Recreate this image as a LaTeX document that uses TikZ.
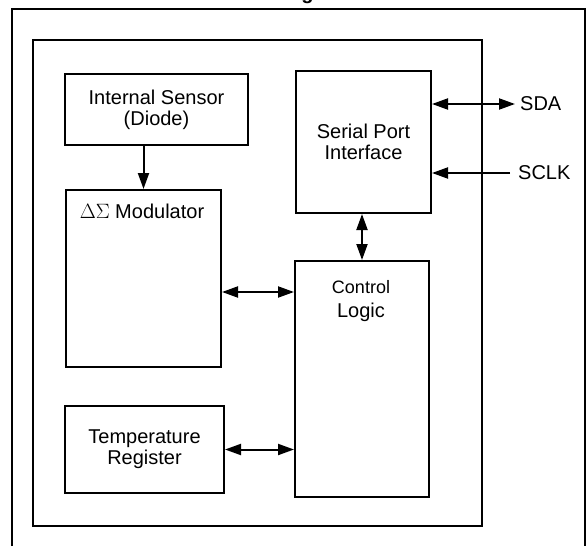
\documentclass[tikz,border=0pt]{standalone}
\usepackage{fontspec}
\setmainfont{Liberation Sans}
\usetikzlibrary{arrows.meta,calc}
\begin{document}
\begin{tikzpicture}[x=1pt,y=-1pt,
  >={Triangle[length=16pt,width=11pt]},
  box/.style={draw,line width=2pt,inner sep=0pt,anchor=north west,align=center,
    font=\fontsize{20}{21}\selectfont},
  lbl/.style={inner sep=0pt,font=\fontsize{20}{21}\selectfont},
  conn/.style={line width=2pt},
  frame/.style={line width=2pt}]
\useasboundingbox (0,0) rectangle (588,546);
% cut-off title (only the descender shows)
\node[inner sep=0pt,anchor=base west,font=\bfseries\fontsize{20}{20}\selectfont] (title) at (210,-1) {Block Diagram};
% outer frame
\draw[frame] (12,546) -- (12,9) -- (585,9) -- (585,546);
% chip outline
\node[box,minimum width=449pt,minimum height=486pt] (chip) at (32,39) {};
% blocks
\node[box,minimum width=183pt,minimum height=71pt] (sensor) at (64,73) {Internal Sensor\\(Diode)};
\node[box,minimum width=135pt,minimum height=142pt] (serial) at (295,70) {Serial Port\\Interface};
\node[box,minimum width=155pt,minimum height=177pt] (delta) at (65,189) {};
\node[box,minimum width=134pt,minimum height=236pt] (ctrl) at (294,260) {};
\node[box,minimum width=159pt,minimum height=87pt] (temp) at (64,405) {Temperature\\Register};
% labels inside tall blocks
\node[lbl,anchor=base] (dlabel) at (142,218) {$\Delta\Sigma$ Modulator};
\node[lbl,anchor=base,font=\fontsize{18}{19}\selectfont] (ctext) at (361,293) {Control};
\node[lbl,anchor=base] (ltext) at (361,317) {Logic};
% pins
\node[lbl,anchor=west] (sda) at (520,104) {SDA};
\node[lbl,anchor=west] (sclk) at (518,173) {SCLK};
% connectors
\draw[conn,->] (delta.north |- sensor.south) -- (delta.north);
\coordinate (c1) at ($(ctrl.north west)+(0,32)$);
\draw[conn,<->] (c1 -| delta.east) -- (c1);
\draw[conn,<->] (temp.east) -- (temp.east -| ctrl.west);
\draw[conn,<->] (ctrl.north) -- (ctrl.north |- serial.south);
\draw[conn,<->] (serial.east |- sda.west) -- ([xshift=-5pt]sda.west);
\draw[conn,->] ([xshift=-8pt]sclk.west) -- (serial.east |- sclk.west);
\end{tikzpicture}
\end{document}
